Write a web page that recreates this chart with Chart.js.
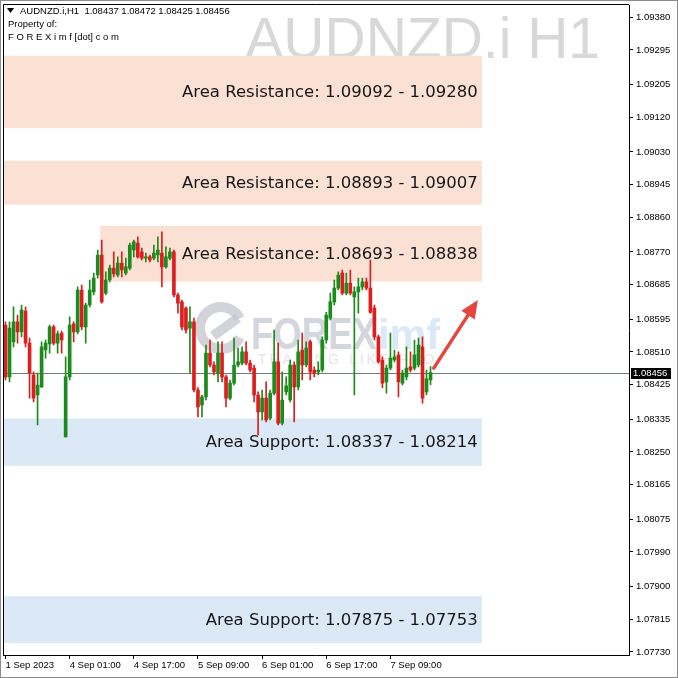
<!DOCTYPE html>
<html>
<head>
<meta charset="utf-8">
<script src="https://cdn.jsdelivr.net/npm/chart.js@4.4.0/dist/chart.umd.min.js"></script>
<style>
  html, body { margin: 0; padding: 0; background: #fff; }
  #wrap { width: 678px; height: 678px; }
</style>
</head>
<body>
<div id="wrap"><canvas id="chart" width="678" height="678"></canvas></div>
<script>
// AUDNZD.i H1 candles (oldest first)
const opens = [1.08580,1.08445,1.08536,1.08588,1.08562,1.08616,1.08533,1.08450,1.08398,1.08419,
  1.08515,1.08531,1.08575,1.08533,1.08559,1.08289,1.08445,1.08583,1.08562,1.08671,
  1.08575,1.08632,1.08666,1.08710,1.08762,1.08663,1.08697,1.08728,1.08710,1.08741,
  1.08715,1.08728,1.08775,1.08793,1.08770,1.08754,1.08757,1.08754,1.08762,1.08767,
  1.08731,1.08754,1.08770,1.08658,1.08640,1.08624,1.08572,1.08588,1.08411,1.08372,
  1.08393,1.08507,1.08476,1.08455,1.08507,1.08445,1.08390,1.08429,1.08476,1.08481,
  1.08510,1.08481,1.08468,1.08398,1.08354,1.08390,1.08338,1.08403,1.08484,1.08325,
  1.08406,1.08385,1.08476,1.08419,1.08515,1.08476,1.08536,1.08463,1.08458,1.08463,
  1.08541,1.08598,1.08640,1.08676,1.08715,1.08663,1.08689,1.08653,1.08666,1.08679,
  1.08692,1.08676,1.08624,1.08549,1.08489,1.08432,1.08468,1.08489,1.08502,1.08429,
  1.08445,1.08471,1.08468,1.08476,1.08523,1.08406,1.08437];
const highs = [1.08588,1.08588,1.08627,1.08606,1.08632,1.08627,1.08546,1.08458,1.08455,1.08536,
  1.08541,1.08580,1.08580,1.08564,1.08564,1.08497,1.08601,1.08588,1.08679,1.08684,
  1.08637,1.08697,1.08715,1.08775,1.08801,1.08718,1.08736,1.08770,1.08757,1.08770,
  1.08754,1.08793,1.08801,1.08809,1.08780,1.08767,1.08762,1.08788,1.08809,1.08822,
  1.08783,1.08780,1.08775,1.08663,1.08645,1.08627,1.08627,1.08598,1.08417,1.08398,
  1.08528,1.08541,1.08484,1.08536,1.08536,1.08450,1.08437,1.08546,1.08520,1.08523,
  1.08536,1.08489,1.08476,1.08406,1.08411,1.08432,1.08411,1.08567,1.08533,1.08458,
  1.08445,1.08489,1.08484,1.08541,1.08559,1.08536,1.08541,1.08471,1.08484,1.08549,
  1.08613,1.08663,1.08697,1.08718,1.08723,1.08715,1.08723,1.08679,1.08702,1.08702,
  1.08702,1.08749,1.08632,1.08554,1.08497,1.08476,1.08559,1.08515,1.08510,1.08463,
  1.08523,1.08510,1.08541,1.08546,1.08549,1.08463,1.08472];
const lows = [1.08437,1.08432,1.08523,1.08533,1.08549,1.08523,1.08390,1.08380,1.08320,1.08417,
  1.08494,1.08507,1.08528,1.08507,1.08507,1.08289,1.08437,1.08536,1.08557,1.08567,
  1.08533,1.08627,1.08658,1.08702,1.08637,1.08658,1.08692,1.08705,1.08705,1.08705,
  1.08710,1.08723,1.08757,1.08754,1.08749,1.08744,1.08744,1.08749,1.08744,1.08679,
  1.08728,1.08749,1.08653,1.08611,1.08567,1.08559,1.08455,1.08406,1.08341,1.08341,
  1.08385,1.08471,1.08450,1.08432,1.08432,1.08367,1.08385,1.08424,1.08471,1.08476,
  1.08476,1.08458,1.08380,1.08294,1.08333,1.08328,1.08333,1.08398,1.08320,1.08320,
  1.08398,1.08380,1.08328,1.08411,1.08437,1.08471,1.08437,1.08445,1.08450,1.08458,
  1.08533,1.08593,1.08632,1.08671,1.08658,1.08658,1.08658,1.08398,1.08611,1.08671,
  1.08671,1.08611,1.08541,1.08481,1.08417,1.08403,1.08463,1.08484,1.08393,1.08424,
  1.08437,1.08458,1.08463,1.08471,1.08377,1.08398,1.08425];
const closes = [1.08445,1.08572,1.08588,1.08562,1.08619,1.08533,1.08455,1.08390,1.08424,1.08523,
  1.08533,1.08575,1.08533,1.08557,1.08541,1.08445,1.08580,1.08562,1.08671,1.08575,
  1.08632,1.08671,1.08702,1.08762,1.08640,1.08697,1.08728,1.08713,1.08741,1.08723,
  1.08731,1.08788,1.08796,1.08757,1.08754,1.08757,1.08749,1.08767,1.08775,1.08731,
  1.08757,1.08770,1.08658,1.08637,1.08575,1.08567,1.08588,1.08411,1.08367,1.08393,
  1.08507,1.08476,1.08458,1.08507,1.08445,1.08390,1.08429,1.08476,1.08484,1.08510,
  1.08481,1.08463,1.08398,1.08354,1.08390,1.08333,1.08403,1.08484,1.08325,1.08385,
  1.08422,1.08476,1.08419,1.08510,1.08476,1.08520,1.08458,1.08455,1.08463,1.08541,
  1.08606,1.08640,1.08676,1.08710,1.08663,1.08689,1.08663,1.08666,1.08679,1.08692,
  1.08676,1.08613,1.08549,1.08484,1.08429,1.08468,1.08494,1.08497,1.08432,1.08455,
  1.08468,1.08463,1.08502,1.08528,1.08390,1.08440,1.08456];

// time axis: number of bar slots visible (incl. the empty shift on the right)
const barSlots = 156;
const timeLabels = ['1 Sep 2023', '4 Sep 01:00', '4 Sep 17:00', '5 Sep 09:00', '6 Sep 01:00', '6 Sep 17:00', '7 Sep 09:00'];
const timeLabelBars = [0, 16, 32, 48, 64, 80, 96];

// price axis
const priceTicks = [1.09380, 1.09295, 1.09205, 1.09120, 1.09030, 1.08945, 1.08860, 1.08770, 1.08685, 1.08595,
  1.08510, 1.08425, 1.08335, 1.08250, 1.08165, 1.08075, 1.07990, 1.07900, 1.07815, 1.07730];
const priceMin = 1.07722;
const priceMax = 1.09412;
const symbol = 'AUDNZD.i';
const period = 'H1';

// support / resistance areas
const zoneKind = ['Resistance', 'Resistance', 'Resistance', 'Support', 'Support'];
const zoneFrom = [1.09092, 1.08893, 1.08693, 1.08337, 1.07875];
const zoneTo = [1.09280, 1.09007, 1.08838, 1.08214, 1.07753];
const zoneStartBar = [-0.5, -0.5, 23.6, -0.5, -0.5];
const zoneEndBar = [118.8, 118.8, 118.8, 118.8, 118.8];

// expected move arrow (bar, price)
const arrowFrom = [106.8, 1.08468];
const arrowTo = [117.8, 1.08645];

const GREEN = '#1d8a1d';
const RED = '#dc1e1e';
const lastPrice = closes[closes.length - 1];
const candleColor = c => closes[c.dataIndex] >= opens[c.dataIndex] ? GREEN : RED;

const slots = [];
for (let i = 0; i < barSlots; i++) slots.push(String(i));

const drawings = {
  id: 'drawings',
  beforeDraw(chart) {
    const ctx = chart.ctx;
    ctx.save();
    ctx.fillStyle = '#fff';
    ctx.fillRect(0, 0, chart.width, chart.height);
    ctx.restore();
  },
  beforeDatasetsDraw(chart) {
    const ctx = chart.ctx, xs = chart.scales.x, ys = chart.scales.y, a = chart.chartArea;
    ctx.save();
    // big symbol watermark
    ctx.font = '57px "Liberation Sans"';
    ctx.fillStyle = '#d8d8d8';
    ctx.textAlign = 'right';
    ctx.textBaseline = 'alphabetic';
    ctx.fillText(symbol + ' ' + period, 600, 58);

    // zones
    for (let i = 0; i < zoneFrom.length; i++) {
      const x0 = Math.max(a.left, xs.getPixelForValue(zoneStartBar[i]));
      const x1 = xs.getPixelForValue(zoneEndBar[i]);
      const y0 = ys.getPixelForValue(Math.max(zoneFrom[i], zoneTo[i]));
      const y1 = ys.getPixelForValue(Math.min(zoneFrom[i], zoneTo[i]));
      ctx.fillStyle = zoneKind[i] === 'Resistance' ? '#fbe1d4' : '#dbe9f7';
      ctx.fillRect(x0, y0, x1 - x0, y1 - y0);
    }

    // logo watermark
    ctx.globalAlpha = 0.75;
    ctx.strokeStyle = '#c3c6cc';
    ctx.lineWidth = 10;
    ctx.beginPath();
    ctx.arc(221, 328, 21, Math.PI * 0.15, Math.PI * 1.85);
    ctx.stroke();
    ctx.beginPath();
    ctx.moveTo(213, 336);
    ctx.lineTo(238, 318);
    ctx.stroke();
    ctx.textAlign = 'left';
    ctx.font = 'bold 44px "Liberation Sans"';
    ctx.fillStyle = '#c4c8d0';
    ctx.fillText('FOREX', 251, 349, 126);
    ctx.fillStyle = '#cfe0f1';
    ctx.font = 'bold 42px "Liberation Sans"';
    ctx.fillText('imf', 378, 349, 62);
    ctx.fillStyle = '#d9dce0';
    ctx.font = '14px "Liberation Sans"';
    ctx.letterSpacing = '3px';
    ctx.fillText('TRADING LIKE PRO', 258, 364);
    ctx.letterSpacing = '0px';
    ctx.globalAlpha = 1;

    // bid line
    const py = Math.round(ys.getPixelForValue(lastPrice)) + 0.5;
    ctx.strokeStyle = '#6f7d77';
    ctx.lineWidth = 1;
    ctx.beginPath();
    ctx.moveTo(a.left, py);
    ctx.lineTo(a.right, py);
    ctx.stroke();
    ctx.restore();
  },
  afterDatasetsDraw(chart) {
    const ctx = chart.ctx, xs = chart.scales.x, ys = chart.scales.y;
    ctx.save();
    // zone captions
    ctx.font = '16.5px "DejaVu Sans"';
    ctx.fillStyle = '#161616';
    ctx.textAlign = 'right';
    ctx.textBaseline = 'middle';
    for (let i = 0; i < zoneFrom.length; i++) {
      const yc = (ys.getPixelForValue(zoneFrom[i]) + ys.getPixelForValue(zoneTo[i])) / 2;
      const txt = 'Area ' + zoneKind[i] + ': ' + zoneFrom[i].toFixed(5) + ' - ' + zoneTo[i].toFixed(5);
      ctx.fillText(txt, xs.getPixelForValue(zoneEndBar[i]) - 4, yc + 1);
    }

    // arrow
    const x0 = xs.getPixelForValue(arrowFrom[0]), y0 = ys.getPixelForValue(arrowFrom[1]);
    const x1 = xs.getPixelForValue(arrowTo[0]), y1 = ys.getPixelForValue(arrowTo[1]);
    const ang = Math.atan2(y1 - y0, x1 - x0);
    const head = 18, half = 8;
    const bx = x1 - head * Math.cos(ang), by = y1 - head * Math.sin(ang);
    ctx.strokeStyle = '#e4463c';
    ctx.fillStyle = '#e4463c';
    ctx.lineWidth = 3.5;
    ctx.lineCap = 'round';
    ctx.beginPath();
    ctx.moveTo(x0, y0);
    ctx.lineTo(bx, by);
    ctx.stroke();
    ctx.beginPath();
    ctx.moveTo(x1, y1);
    ctx.lineTo(bx + half * Math.sin(ang), by - half * Math.cos(ang));
    ctx.lineTo(bx - half * Math.sin(ang), by + half * Math.cos(ang));
    ctx.closePath();
    ctx.fill();
    ctx.restore();
  },
  afterDraw(chart) {
    const ctx = chart.ctx, ys = chart.scales.y, a = chart.chartArea;
    ctx.save();
    // chart frame (left / top)
    ctx.strokeStyle = '#000';
    ctx.lineWidth = 1;
    ctx.beginPath();
    ctx.moveTo(a.left, a.bottom);
    ctx.lineTo(a.left, a.top - 0.5);
    ctx.lineTo(a.right, a.top - 0.5);
    ctx.stroke();

    // window border
    ctx.strokeStyle = '#8c8c8c';
    ctx.strokeRect(0.5, 0.5, chart.width - 1, chart.height - 1);

    // header
    const n = closes.length;
    ctx.fillStyle = '#000';
    ctx.beginPath();
    ctx.moveTo(7, 8);
    ctx.lineTo(14, 8);
    ctx.lineTo(10.5, 13);
    ctx.closePath();
    ctx.fill();
    ctx.font = '9.5px "Liberation Sans"';
    ctx.textBaseline = 'middle';
    ctx.textAlign = 'left';
    ctx.fillText(symbol + ',' + period + '  ' + [opens[n - 1], highs[n - 1], lows[n - 1], closes[n - 1]].map(v => v.toFixed(5)).join(' '), 20, 11);
    ctx.fillText('Property of:', 8, 24);
    ctx.fillText('F O R E X i m f [dot] c o m', 8, 37);

    // bid price tag
    const py = Math.round(ys.getPixelForValue(lastPrice));
    ctx.fillStyle = '#000';
    ctx.fillRect(a.right + 2, py - 5, 40, 11);
    ctx.fillStyle = '#fff';
    ctx.fillText(lastPrice.toFixed(5), a.right + 4, py + 0.5);
    ctx.restore();
  }
};

const chart = new Chart(document.getElementById('chart'), {
  type: 'bar',
  data: {
    labels: slots,
    datasets: [
      {
        label: 'wick',
        data: lows.map((l, i) => [l, highs[i]]),
        backgroundColor: candleColor,
        barThickness: 1,
        grouped: false,
        order: 2
      },
      {
        label: 'body',
        data: opens.map((o, i) => [o, closes[i]]),
        backgroundColor: candleColor,
        barThickness: 3,
        minBarLength: 1,
        grouped: false,
        order: 1
      }
    ]
  },
  options: {
    responsive: false,
    animation: false,
    devicePixelRatio: 1,
    layout: { padding: { left: 3.5, top: 5, right: 0, bottom: 0 } },
    plugins: { legend: { display: false }, tooltip: { enabled: false } },
    scales: {
      x: {
        position: 'bottom',
        afterFit: s => { s.height = 23; s.paddingLeft = 0; s.paddingRight = 0; },
        grid: {
          offset: false,
          drawOnChartArea: false,
          tickLength: 4,
          color: c => timeLabelBars.includes(c.index) ? '#000' : 'rgba(0,0,0,0)'
        },
        border: { color: '#000' },
        ticks: {
          autoSkip: false,
          maxRotation: 0,
          minRotation: 0,
          align: 'start',
          padding: 1,
          color: '#000',
          font: { family: 'Liberation Sans', size: 9.5 },
          callback: (v, i) => {
            const k = timeLabelBars.indexOf(i);
            return k >= 0 ? timeLabels[k] : '';
          }
        }
      },
      y: {
        position: 'right',
        min: priceMin,
        max: priceMax,
        afterFit: s => { s.width = 49; s.paddingTop = 0; s.paddingBottom = 0; },
        afterBuildTicks: s => { s.ticks = priceTicks.map(v => ({ value: v })); },
        grid: { drawOnChartArea: false, tickLength: 4, color: '#000' },
        border: { color: '#000' },
        ticks: {
          padding: 3,
          color: '#000',
          font: { family: 'Liberation Sans', size: 9.5 },
          callback: v => Number(v).toFixed(5)
        }
      }
    }
  },
  plugins: [drawings]
});
</script>
</body>
</html>
